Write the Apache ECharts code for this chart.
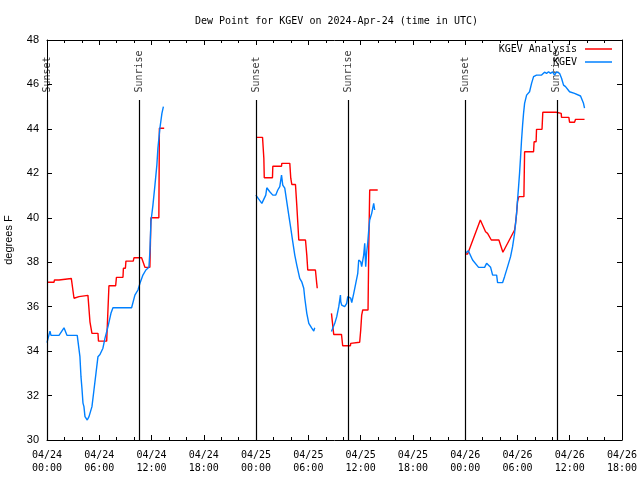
<!DOCTYPE html>
<html>
<head>
<meta charset="utf-8">
<script src="https://cdn.jsdelivr.net/npm/echarts@6/dist/echarts.min.js"></script>
<style>html,body{margin:0;padding:0;background:#fff}#c{width:640px;height:480px}</style>
</head>
<body>
<div id="c"></div>
<script>
// hours since 2024-04-24 00:00 UTC, dew point (deg F)
const analysisSeg1 = [[0,37.1],[0.8,37.1],[0.86,37.2],[1.38,37.2],[1.43,37.27],[2.79,37.27],[3.1,36.38],[3.67,36.45],[3.78,36.51],[4.7,36.51],[4.93,35.32],[5.16,34.8],[5.85,34.8],[5.91,34.45],[6.85,34.45],[7.11,36.94],[7.88,36.94],[7.97,37.32],[8.72,37.32],[8.77,37.73],[9.0,37.73],[9.06,38.05],[9.9,38.05],[9.98,38.2],[10.86,38.2],[11.24,37.77],[11.81,37.77],[11.87,38.82],[11.93,40.0],[12.84,40.0],[12.9,44.03],[13.45,44.03]];
const analysisSeg2 = [[24.05,43.62],[24.74,43.62],[24.89,42.68],[24.94,41.8],[25.88,41.8],[25.92,42.32],[26.92,42.32],[26.95,42.45],[27.87,42.45],[27.98,41.78],[28.1,41.5],[28.52,41.5],[28.67,40.57],[28.78,39.82],[28.9,39.0],[29.67,39.0],[29.82,38.32],[29.93,37.65],[30.81,37.65],[30.96,37.05],[31.02,36.83]];
const analysisSeg3 = [[32.65,35.7],[32.83,35.7],[32.91,34.75],[33.8,34.75],[33.94,34.24],[34.83,34.24],[34.86,34.35],[35.06,34.4],[35.89,34.4],[36.01,34.95],[36.12,35.62],[36.24,35.85],[36.85,35.85],[36.93,38.55],[37.04,41.25],[37.96,41.25]];
const analysisSeg4 = [[48.02,38.37],[48.28,38.37],[49.74,39.9],[50.34,39.37],[50.57,39.3],[51.0,39.0],[51.87,39.0],[52.33,38.45],[53.67,39.45],[53.78,39.75],[53.9,40.2],[54.01,40.73],[54.16,40.95],[54.74,40.95],[54.82,42.97],[55.85,42.97],[55.91,43.42],[56.14,43.42],[56.19,43.98],[56.82,43.98],[56.91,44.75],[58.45,44.75],[58.49,44.7],[59.02,44.7],[59.06,44.52],[59.9,44.52],[59.98,44.3],[60.55,44.3],[60.67,44.43],[61.7,44.43]];

const obsSeg1 = [[0,34.38],[0.34,34.9],[0.46,34.71],[1.38,34.71],[1.95,35.05],[2.29,34.71],[3.47,34.71],[3.78,33.75],[3.9,32.85],[4.01,32.33],[4.13,31.66],[4.24,31.5],[4.36,31.05],[4.62,30.9],[4.82,31.05],[5.16,31.5],[5.39,32.25],[5.62,33.0],[5.85,33.75],[6.08,33.85],[6.42,34.13],[6.65,34.57],[7.0,35.1],[7.34,35.7],[7.57,35.95],[9.71,35.95],[10.09,36.52],[10.44,36.75],[10.67,37.05],[11.01,37.42],[11.35,37.65],[11.7,37.77],[11.81,38.47],[11.93,39.82],[12.16,40.57],[12.39,41.47],[12.61,42.37],[12.73,43.13],[12.96,44.03],[13.19,44.7],[13.36,45.0]];
const obsSeg2 = [[23.97,41.02],[24.66,40.65],[25.11,41.02],[25.23,41.35],[25.57,41.17],[25.92,41.02],[26.26,41.02],[26.49,41.25],[26.72,41.4],[26.92,41.92],[27.06,41.47],[27.29,41.33],[27.52,40.73],[27.75,40.12],[27.98,39.53],[28.21,38.92],[28.44,38.32],[28.67,37.87],[29.01,37.27],[29.24,37.12],[29.47,36.83],[29.59,36.38],[29.82,35.7],[30.05,35.25],[30.39,35.03],[30.62,34.9],[30.73,35.05]];
const obsSeg3 = [[32.65,34.88],[32.8,34.88],[33.03,35.25],[33.26,35.55],[33.49,36.0],[33.68,36.52],[33.72,36.22],[33.83,36.07],[33.94,36.15],[34.17,36.0],[34.4,36.15],[34.52,36.45],[34.63,36.52],[34.86,36.38],[34.98,36.18],[35.21,36.6],[35.44,37.05],[35.67,37.5],[35.78,38.1],[36.01,38.02],[36.12,37.8],[36.24,37.73],[36.35,38.32],[36.47,38.85],[36.58,37.8],[36.7,38.47],[36.81,38.85],[36.93,39.45],[37.04,39.9],[37.27,40.2],[37.5,40.65],[37.61,40.35]];
const obsSeg4 = [[48.02,38.4],[48.36,38.52],[48.85,38.1],[49.54,37.77],[50.23,37.77],[50.46,37.95],[50.92,37.77],[51.15,37.42],[51.61,37.42],[51.72,37.08],[52.29,37.08],[52.52,37.35],[52.87,37.8],[53.21,38.25],[53.44,38.7],[53.67,39.3],[53.9,40.2],[54.01,40.8],[54.13,41.4],[54.24,42.0],[54.36,42.75],[54.47,43.5],[54.59,44.17],[54.7,44.7],[54.82,45.15],[55.05,45.52],[55.39,45.67],[55.62,46.05],[55.85,46.35],[56.19,46.42],[56.77,46.42],[57.11,46.55],[57.34,46.5],[57.57,46.57],[57.8,46.5],[58.03,46.57],[58.26,46.42],[58.49,46.57],[58.83,46.5],[59.06,46.28],[59.29,45.97],[59.52,45.9],[59.98,45.67],[60.55,45.6],[61.24,45.48],[61.58,45.15],[61.7,44.93]];

const sunEventHours = [0, 10.59, 24.0, 34.55, 48.02, 58.52];
const sunEventNames = ['Sunset','Sunrise','Sunset','Sunrise','Sunset','Sunrise'];

const xTickLabels = ['04/24\n00:00','04/24\n06:00','04/24\n12:00','04/24\n18:00','04/25\n00:00','04/25\n06:00','04/25\n12:00','04/25\n18:00','04/26\n00:00','04/26\n06:00','04/26\n12:00','04/26\n18:00'];
const yTicks = [30,32,34,36,38,40,42,44,46,48];

const X_MIN = 0, X_MAX = 66, X_STEP = 6;
const Y_MIN = yTicks[0], Y_MAX = yTicks[yTicks.length-1];
const MARK_TOP = 45.3;

function joinSegs(segs){
  const out = [];
  segs.forEach((s,i)=>{ if(i>0) out.push([s[0][0]-0.01, null]); s.forEach(p=>out.push(p)); });
  return out;
}

const mono = 'DejaVu Sans Mono';
const sans = 'Liberation Sans';

const legendBase = {right: 28, align: 'right', orient: 'vertical', icon: 'rect',
  itemWidth: 27, itemHeight: 1.5, padding: 0,
  textStyle: {fontFamily: mono, fontSize: 10, color: '#000', padding: [0,3,0,0]}};

const chart = echarts.init(document.getElementById('c'), null, {renderer:'canvas'});
chart.setOption({
  animation: false,
  backgroundColor: '#fff',
  title: {
    text: 'Dew Point for KGEV on 2024-Apr-24 (time in UTC)',
    left: 190, top: 11,
    textStyle: {fontFamily: mono, fontSize: 10, fontWeight: 'normal', color: '#000'}
  },
  grid: {left: 47, right: 18, top: 40, bottom: 40, containLabel: false, outerBoundsMode: 'none'},
  legend: [
    Object.assign({}, legendBase, {data: ['KGEV Analysis'], top: 44}),
    Object.assign({}, legendBase, {data: ['KGEV'], top: 57})
  ],
  xAxis: [
    {type: 'value', min: X_MIN, max: X_MAX, interval: X_STEP, position: 'bottom',
     axisLine: {show: true, onZero: false, lineStyle: {color: '#000', width: 1}},
     axisTick: {show: true, inside: true, length: 5, lineStyle: {color: '#000'}},
     minorTick: {show: true, splitNumber: 3, length: 3, lineStyle: {color: '#000'}},
     splitLine: {show: false},
     axisLabel: {show: true, margin: 9, fontFamily: mono, fontSize: 10, color: '#000', lineHeight: 13,
       showMinLabel: true, showMaxLabel: true, hideOverlap: false,
       formatter: v => xTickLabels[Math.round(v / X_STEP)] || ''}},
    {type: 'value', min: X_MIN, max: X_MAX, interval: X_STEP, position: 'top',
     axisLine: {show: true, onZero: false, lineStyle: {color: '#000', width: 1}},
     axisTick: {show: true, inside: true, length: 5, lineStyle: {color: '#000'}},
     minorTick: {show: true, splitNumber: 3, length: 3, lineStyle: {color: '#000'}},
     splitLine: {show: false}, axisLabel: {show: false}}
  ],
  yAxis: [
    {type: 'value', min: Y_MIN, max: Y_MAX, interval: 2, position: 'left',
     name: 'degrees F', nameLocation: 'middle', nameRotate: 90, nameGap: 33,
     nameTextStyle: {fontFamily: sans, fontSize: 11, color: '#000'},
     axisLine: {show: true, onZero: false, lineStyle: {color: '#000', width: 1}},
     axisTick: {show: true, inside: true, length: 5, lineStyle: {color: '#000'}},
     splitLine: {show: false},
     axisLabel: {margin: 8, fontFamily: sans, fontSize: 11, color: '#000'}},
    {type: 'value', min: Y_MIN, max: Y_MAX, interval: 2, position: 'right',
     axisLine: {show: true, onZero: false, lineStyle: {color: '#000', width: 1}},
     axisTick: {show: true, inside: true, length: 5, lineStyle: {color: '#000'}},
     splitLine: {show: false}, axisLabel: {show: false}}
  ],
  series: [
    {name: 'sun', type: 'scatter', xAxisIndex: 0, yAxisIndex: 0,
     data: sunEventHours.map((h,i)=>({value: [h, MARK_TOP], name: sunEventNames[i]})),
     symbolSize: 1, itemStyle: {color: 'rgba(0,0,0,0)'}, silent: true,
     label: {show: true, formatter: p => p.name, position: 'top', distance: 7, rotate: 90,
       align: 'left', verticalAlign: 'middle', fontFamily: mono, fontSize: 10, color: '#000'},
     markLine: {silent: true, symbol: ['none','none'], animation: false,
       lineStyle: {color: '#000', width: 1.2, type: 'solid'}, label: {show: false},
       data: sunEventHours.map(h => [{coord: [h, Y_MIN]}, {coord: [h, MARK_TOP]}])}},
    {name: 'KGEV Analysis', type: 'line', data: joinSegs([analysisSeg1, analysisSeg2, analysisSeg3, analysisSeg4]),
     showSymbol: false, symbol: 'none', connectNulls: false,
     lineStyle: {color: '#ff0000', width: 1.4}, itemStyle: {color: '#ff0000'}},
    {name: 'KGEV', type: 'line', data: joinSegs([obsSeg1, obsSeg2, obsSeg3, obsSeg4]),
     showSymbol: false, symbol: 'none', connectNulls: false,
     lineStyle: {color: '#0080ff', width: 1.4}, itemStyle: {color: '#0080ff'}}
  ]
});
</script>
</body>
</html>
